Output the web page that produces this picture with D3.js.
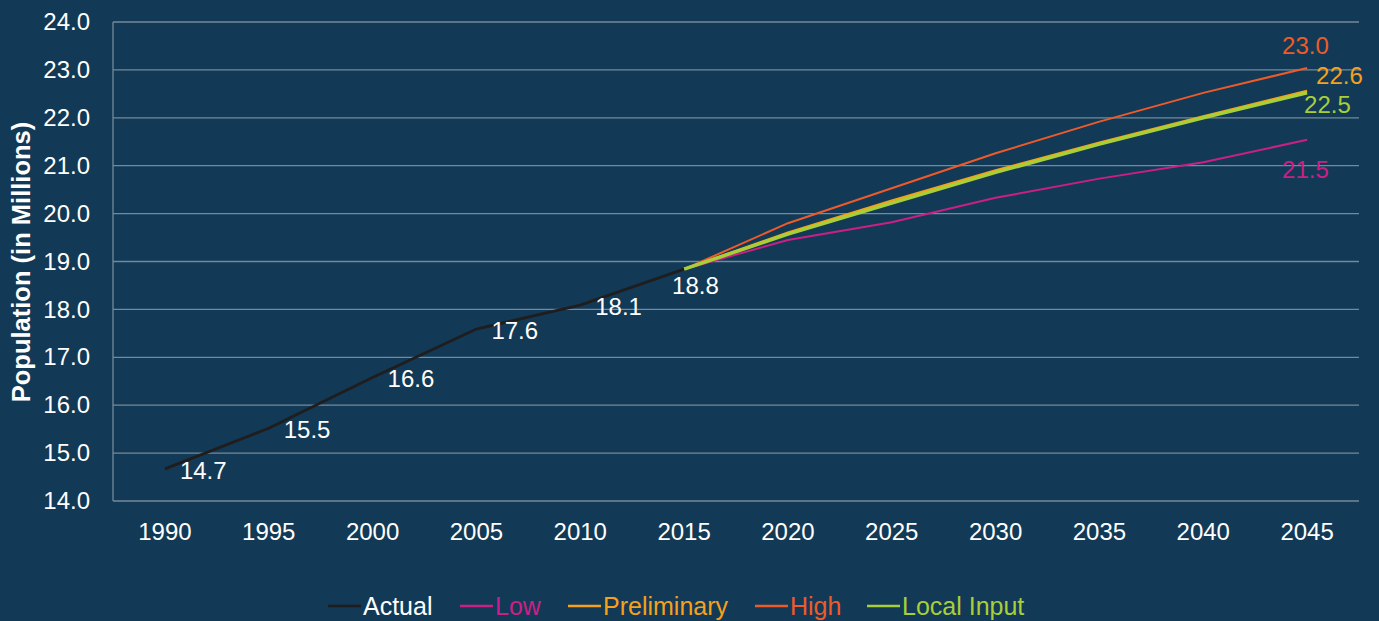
<!DOCTYPE html>
<html>
<head>
<meta charset="utf-8">
<script src="https://cdn.jsdelivr.net/npm/d3@7"></script>
<style>
  body { margin: 0; background: #123a56; }
  svg { display: block; font-family: "Liberation Sans", Arial, sans-serif; }
</style>
</head>
<body>
<div class="vis-line"></div>
<script>
const years = ["1990", "1995", "2000", "2005", "2010", "2015", "2020", "2025", "2030", "2035", "2040", "2045"];
const actual = [14.67, 15.52, 16.58, 17.59, 18.09, 18.84];
const low = [18.84, 19.45, 19.82, 20.33, 20.73, 21.07, 21.54];
const preliminary = [18.84, 19.6, 20.27, 20.9, 21.48, 22.03, 22.56];
const high = [18.84, 19.8, 20.53, 21.26, 21.92, 22.52, 23.04];
const localInput = [18.84, 19.57, 20.22, 20.86, 21.45, 22.0, 22.52];
const yTicks = [14, 15, 16, 17, 18, 19, 20, 21, 22, 23, 24];

const W = 1379, H = 621;
const margin = { top: 22, right: 20, bottom: 120, left: 113 };
const width = W - margin.left - margin.right;
const height = H - margin.top - margin.bottom;

const svg = d3.select(".vis-line").append("svg").attr("width", W).attr("height", H);
svg.append("rect").attr("width", W).attr("height", H).attr("fill", "#123a56");
const g = svg.append("g").attr("transform", `translate(${margin.left},${margin.top})`);

const x = d3.scaleBand().domain(years).range([0, width]);
const y = d3.scaleLinear().domain([14, 24]).range([height, 0]);
const cx = (yr) => x(yr) + x.bandwidth() / 2;

// grid
g.selectAll(".grid").data(yTicks).enter().append("line")
  .attr("x1", 0).attr("x2", width)
  .attr("y1", (d) => y(d)).attr("y2", (d) => y(d))
  .attr("stroke", "#74899a").attr("stroke-width", 1.3);
g.append("line").attr("x1", 0).attr("x2", 0).attr("y1", 0).attr("y2", height)
  .attr("stroke", "#74899a").attr("stroke-width", 1.3);

// y axis
const yAxis = g.append("g").call(d3.axisLeft(y).tickValues(yTicks).tickSize(0).tickPadding(23).tickFormat(d3.format(".1f")));
yAxis.select(".domain").remove();
yAxis.selectAll("text").attr("fill", "#fff").attr("font-size", 24).attr("font-family", "Liberation Sans, Arial, sans-serif");

// x axis
const xAxis = g.append("g").attr("transform", `translate(0,${height})`)
  .call(d3.axisBottom(x).tickSize(0).tickPadding(22));
xAxis.select(".domain").remove();
xAxis.selectAll("text").attr("fill", "#fff").attr("font-size", 24).attr("font-family", "Liberation Sans, Arial, sans-serif");

// y axis title
svg.append("text")
  .attr("transform", `translate(30,262) rotate(-90)`)
  .attr("text-anchor", "middle")
  .attr("fill", "#fff").attr("font-size", 25.5).attr("font-weight", "bold")
  .text("Population (in Millions)");

const line = d3.line().x((d) => cx(d.yr)).y((d) => y(d.v));
const proj = years.slice(5);

const series = [
  { name: "Actual", color: "#1f1d1e", text: "#ffffff", w: 2.8, pts: actual.map((v, i) => ({ yr: years[i], v })) },
  { name: "Low", color: "#cc1f85", text: "#cc1f85", w: 2, pts: low.map((v, i) => ({ yr: proj[i], v })) },
  { name: "Preliminary", color: "#f6a01c", text: "#f6a01c", w: 2.5, pts: preliminary.map((v, i) => ({ yr: proj[i], v })) },
  { name: "High", color: "#ee5a29", text: "#ee5a29", w: 2, pts: high.map((v, i) => ({ yr: proj[i], v })) },
  { name: "Local Input", color: "#a8cf38", text: "#a8cf38", w: 3.5, pts: localInput.map((v, i) => ({ yr: proj[i], v })) }
];

// draw lines (local input over preliminary)
const order = [1, 3, 2, 4, 0];
order.forEach((k) => {
  const s = series[k];
  g.append("path").datum(s.pts)
    .attr("fill", "none").attr("stroke", s.color).attr("stroke-width", s.w)
    .attr("d", line);
});

// labels for actual
const fmt = d3.format(".1f");
actual.forEach((v, i) => {
  const last = i === actual.length - 1;
  g.append("text")
    .attr("x", cx(years[i]) + (last ? -12 : 15))
    .attr("y", y(v) + (last ? 25 : 10))
    .attr("fill", "#fff").attr("font-size", 24)
    .text(fmt(v));
});

// end labels
const endOffsets = { Low: [-25, 38], Preliminary: [9, -7], High: [-25, -14], "Local Input": [-3, 20] };
series.slice(1).forEach((s) => {
  const p = s.pts[s.pts.length - 1];
  const o = endOffsets[s.name];
  g.append("text")
    .attr("x", cx(p.yr) + o[0]).attr("y", y(p.v) + o[1])
    .attr("fill", s.text).attr("font-size", 24)
    .text(fmt(Math.floor(p.v * 10 + 0.5 - 0.0001) / 10));
});

// legend
const legendX = [328, 460, 568, 755, 867];
const leg = svg.append("g").attr("transform", "translate(0,606)");
series.forEach((s, i) => {
  leg.append("line").attr("x1", legendX[i]).attr("x2", legendX[i] + 33)
    .attr("y1", 0).attr("y2", 0).attr("stroke", s.color).attr("stroke-width", 2.5);
  leg.append("text").attr("x", legendX[i] + 35).attr("y", 9)
    .attr("fill", s.text).attr("font-size", 25).text(s.name);
});
</script>
</body>
</html>
